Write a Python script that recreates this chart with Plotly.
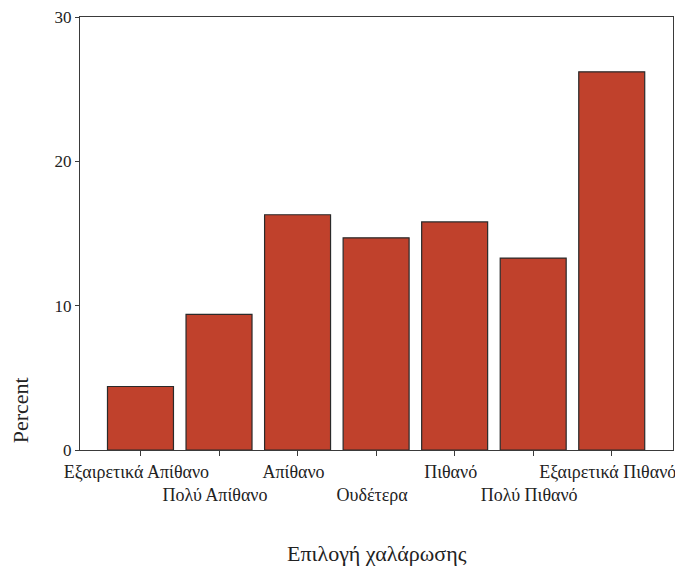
import plotly.graph_objects as go

categories = ["Εξαιρετικά Απίθανο", "Πολύ Απίθανο", "Απίθανο", "Ουδέτερα",
              "Πιθανό", "Πολύ Πιθανό", "Εξαιρετικά Πιθανό"]
percent = [4.4, 9.4, 16.3, 14.7, 15.8, 13.3, 26.2]
y_ticks = [0, 10, 20, 30]
x_title = "Επιλογή χαλάρωσης"
y_title = "Percent"

xs = list(range(len(categories)))
ticktext = [c if i % 2 == 0 else "<br>" + c for i, c in enumerate(categories)]

fig = go.Figure(go.Bar(
    x=xs, y=percent, width=0.84,
    marker=dict(color="#C0412C", line=dict(color="#2a2a2a", width=1.2)),
))

font = "Liberation Serif, Times New Roman, serif"
fig.update_layout(
    width=675, height=559,
    margin=dict(l=72, r=10, t=9, b=117, autoexpand=False),
    paper_bgcolor="white", plot_bgcolor="white",
    showlegend=False,
    font=dict(family=font, color="#222", size=15),
    xaxis=dict(range=[-0.77, 6.78], tickvals=xs, ticktext=ticktext,
               tickangle=0, automargin=False, ticklabeloverflow="allow",
               ticklabelshift=-4,
               showline=True, linecolor="#3a3a3a", linewidth=1.2, mirror=True,
               ticks="outside", ticklen=5, tickcolor="#3a3a3a",
               showgrid=False, zeroline=False,
               tickfont=dict(family=font, size=18, color="#222")),
    yaxis=dict(range=[0, 30], tickvals=y_ticks, automargin=False,
               ticklabeloverflow="allow",
               showline=True, linecolor="#3a3a3a", linewidth=1.2, mirror=True,
               ticks="outside", ticklen=4, tickcolor="#3a3a3a",
               showgrid=False, zeroline=False,
               tickfont=dict(family=font, size=17, color="#222")),
    annotations=[
        dict(text=x_title, xref="paper", yref="paper", x=0.5, y=-0.238,
             xanchor="center", yanchor="middle", showarrow=False,
             font=dict(family=font, size=22, color="#222")),
        dict(text=y_title, xref="paper", yref="paper", x=-0.101, y=0.092,
             xanchor="center", yanchor="middle", showarrow=False, textangle=-90,
             font=dict(family=font, size=22, color="#222")),
    ],
)

fig.write_html("out.html")
